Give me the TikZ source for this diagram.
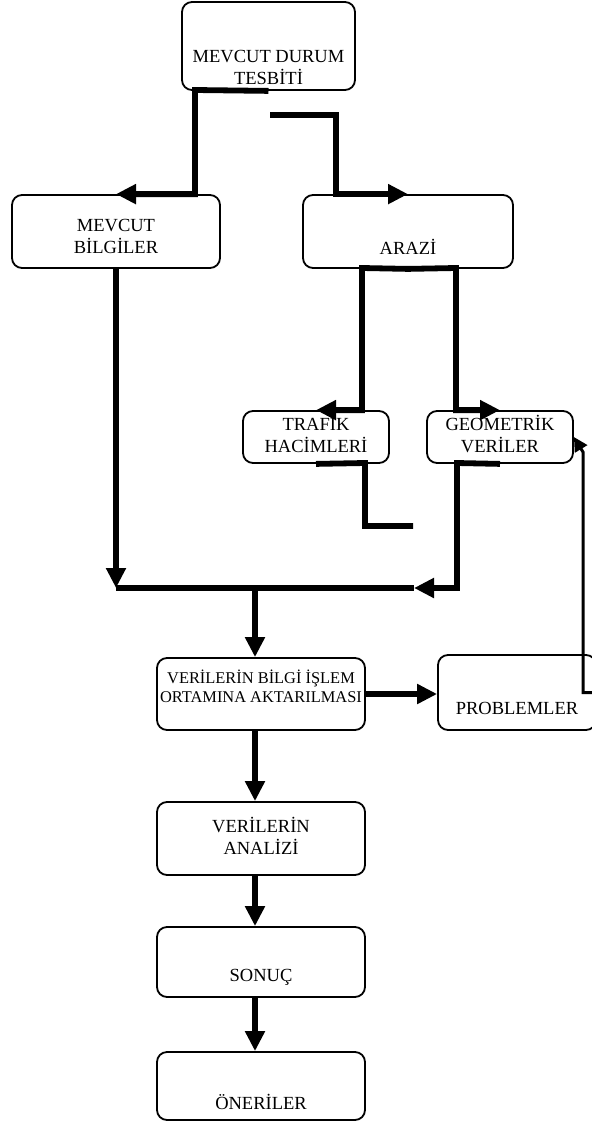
\documentclass[tikz,border=0pt]{standalone}
\usepackage{fontspec}
\setmainfont{Liberation Serif}
\usetikzlibrary{arrows.meta}

\tikzset{
  box/.style={draw, line width=0.9pt, rounded corners=5pt, inner sep=0pt},
  txt/.style={font=\fontsize{9.25}{11}\selectfont, align=center, inner sep=0pt},
  small/.style={font=\fontsize{8.2}{9.6}\selectfont},
  conn/.style={line width=2.9pt},
  tip/.style={-{Triangle[length=10pt,width=9.5pt]}},
  fb/.style={line width=1.5pt, -{Triangle[length=7pt,width=7pt]}}
}

\begin{document}
\begin{tikzpicture}[x=0.5pt,y=-0.5pt]
  \useasboundingbox (0,0) rectangle (592,1124);

  \node (tesbit) [box, minimum width=86.5pt, minimum height=44pt,
        label={[txt,yshift=-10.5pt]center:MEVCUT DURUM\\TESBİTİ}] at (268.5,46) {};
  \node (mevcut) [box, minimum width=104pt, minimum height=36.5pt,
        label={[txt,yshift=-2.25pt]center:MEVCUT\\BİLGİLER}] at (116,231.5) {};
  \node (arazi)  [box, minimum width=105pt, minimum height=36.5pt,
        label={[txt,yshift=-7.75pt]center:ARAZİ}] at (408,231.5) {};
  \node (trafik) [box, minimum width=73pt, minimum height=26pt,
        label={[txt,yshift=1.5pt]center:TRAFİK\\HACİMLERİ}] at (316,437) {};
  \node (geo)    [box, minimum width=73pt, minimum height=26pt,
        label={[txt,yshift=1.5pt]center:GEOMETRİK\\VERİLER}] at (500,437) {};
  \node (aktar)  [box, minimum width=104pt, minimum height=36pt,
        label={[txt,small,yshift=3.75pt]center:VERİLERİN BİLGİ İŞLEM\\ORTAMINA AKTARILMASI}] at (261,694) {};
  \node (prob)   [box, minimum width=79pt, minimum height=37.5pt,
        label={[txt,yshift=-7.75pt]center:PROBLEMLER}] at (517,692.5) {};
  \node (analiz) [box, minimum width=104pt, minimum height=36.5pt,
        label={[txt,yshift=1.25pt]center:VERİLERİN\\ANALİZİ}] at (261,838.5) {};
  \node (sonuc)  [box, minimum width=104pt, minimum height=35pt,
        label={[txt,yshift=-7.5pt]center:SONUÇ}] at (261,962) {};
  \node (oneri)  [box, minimum width=104pt, minimum height=34pt,
        label={[txt,yshift=-8pt]center:ÖNERİLER}] at (261,1086) {};

  \coordinate (b1) at (270,115);
  \coordinate (t1) at (413,526);
  \coordinate (j1) at (116,588);
  \coordinate (j2) at (414,588);
  \coordinate (j4) at (255,588);

  \draw[conn,tip] (tesbit.south) -- (195,90) |- (mevcut.north);
  \draw[conn,tip] (b1) -- (336,115) |- (arazi.north);
  \draw[conn,tip] (arazi.south) -- (362,268) |- (trafik.north);
  \draw[conn,tip] (arazi.south) -- (456,268) |- (geo.north);
  \draw[conn] (trafik.south) -- (365,463) |- (t1);
  \draw[conn,tip] (geo.south) -- (457,463) |- (j2);
  \draw[conn,tip] (mevcut.south) -- (j1);
  \draw[conn] (j1) -- (j2);
  \draw[conn,tip] (j4) -- (j4 |- aktar.north);
  \draw[conn,tip] (aktar.east) -- (aktar.east -| prob.west);
  \draw[conn,tip] (aktar.south -| j4) -- (analiz.north -| j4);
  \draw[conn,tip] (analiz.south -| j4) -- (sonuc.north -| j4);
  \draw[conn,tip] (sonuc.south -| j4) -- (oneri.north -| j4);
  \draw[fb] (prob.east) -| (583,452) -- (geo.east);
\end{tikzpicture}
\end{document}
